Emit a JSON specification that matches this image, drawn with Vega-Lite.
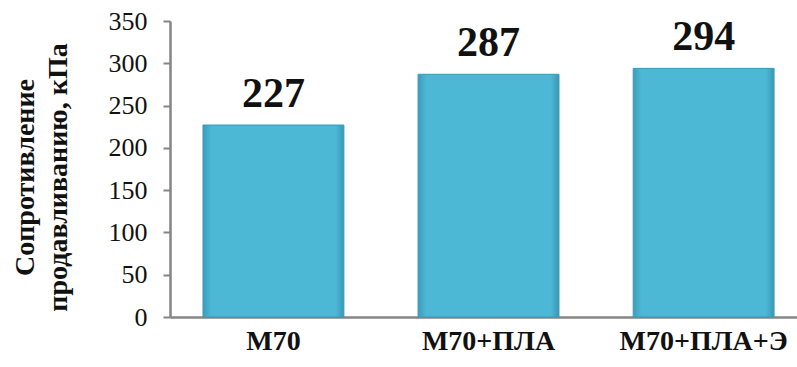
{
  "$schema": "https://vega.github.io/schema/vega-lite/v6.json",
  "width": 627,
  "height": 296,
  "autosize": {"type": "none"},
  "padding": {"left": 170, "top": 21, "right": 0, "bottom": 50},
  "background": "white",
  "data": {"values": [
    {"sample": "M70", "value": 227},
    {"sample": "M70+ПЛА", "value": 287},
    {"sample": "M70+ПЛА+Э", "value": 294}
  ]},
  "config": {
    "view": {"stroke": null},
    "font": "'Liberation Serif', 'Times New Roman', serif"
  },
  "encoding": {
    "x": {
      "field": "sample", "type": "nominal", "sort": null,
      "scale": {"paddingInner": 0.345, "paddingOuter": 0.13, "align": 0.59},
      "axis": {
        "title": null, "labelAngle": 0, "labelFont": "'Liberation Serif', 'Times New Roman', serif",
        "labelFontSize": 28, "labelFontWeight": "bold", "labelColor": "#111111",
        "labelPadding": 10, "ticks": false, "domainColor": "#858585", "domainWidth": 2.5
      }
    },
    "y": {
      "field": "value", "type": "quantitative",
      "scale": {"domain": [0, 350], "nice": false},
      "axis": {
        "values": [0, 50, 100, 150, 200, 250, 300, 350],
        "grid": false, "title": ["Сопротивление", "продавливанию, кПа"],
        "titleFont": "'Liberation Serif', 'Times New Roman', serif", "titleFontSize": 28, "titleFontWeight": "bold",
        "titleColor": "#111111", "titleLineHeight": 33, "titlePadding": 36, "titleY": 156,
        "labelFont": "'Liberation Serif', 'Times New Roman', serif", "labelFontSize": 26, "labelColor": "#111111",
        "labelPadding": 16, "tickSize": 7, "tickColor": "#858585", "tickWidth": 2,
        "domainColor": "#858585", "domainWidth": 2.5
      }
    }
  },
  "layer": [
    {
      "mark": {
        "type": "bar",
        "stroke": "#3a9ab6", "strokeWidth": 1,
        "color": {
          "gradient": "linear", "x1": 0, "x2": 1, "y1": 0, "y2": 0,
          "stops": [
            {"offset": 0, "color": "#3a9dbb"},
            {"offset": 0.06, "color": "#4db8d6"},
            {"offset": 0.94, "color": "#4db8d6"},
            {"offset": 1, "color": "#3898b4"}
          ]
        }
      }
    },
    {
      "mark": {"type": "text", "baseline": "alphabetic", "dy": -18, "font": "'Liberation Serif', 'Times New Roman', serif",
        "fontSize": 42, "fontWeight": "bold", "color": "#111111"},
      "encoding": {"text": {"field": "value", "type": "quantitative"}}
    }
  ]
}
